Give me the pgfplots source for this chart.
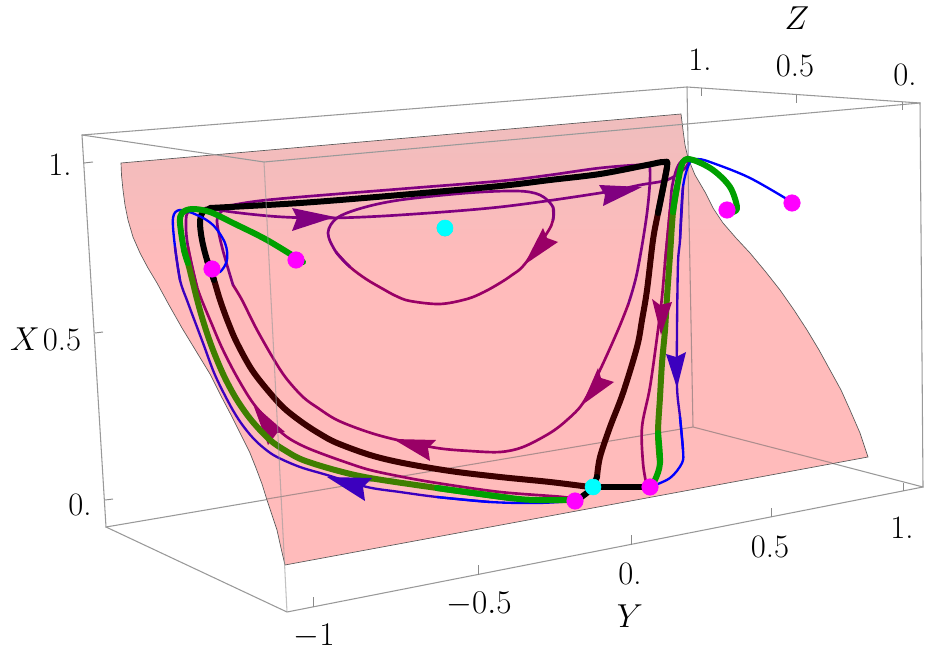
\documentclass[border=0pt]{standalone}
\usepackage{pgfplots}
\pgfplotsset{compat=1.18}
\definecolor{surfp}{HTML}{FFBBBB}
\definecolor{surfg}{HTML}{EFBDBD}
\definecolor{boxc}{HTML}{999999}
\definecolor{boxt}{HTML}{AD8D8D}
\definecolor{pA}{HTML}{800080}
\definecolor{pB}{HTML}{990066}
\definecolor{bA}{HTML}{0000FF}
\definecolor{bB}{HTML}{3C00BE}
\definecolor{gA}{HTML}{00A000}
\definecolor{gB}{HTML}{3F7F00}
\definecolor{kB}{HTML}{3C0000}
\definecolor{mg}{HTML}{FF00FF}
\definecolor{cy}{HTML}{00FFFF}
\definecolor{cyd}{HTML}{40C0C0}
\pgfdeclareverticalshading{surfshade}{100bp}{color(0bp)=(surfp); color(58bp)=(surfp); color(75bp)=(surfg); color(100bp)=(surfg)}
\newcommand{\lab}[1]{\fontsize{24.5}{28}\selectfont #1}
\begin{document}
\begin{tikzpicture}
\begin{axis}[
  axis lines=none, scale only axis, width=700.5pt, height=491.25pt,
  xmin=0, xmax=934, ymin=0, ymax=655, y dir=reverse, clip=true,
  boxl/.style={color=boxc, line width=0.8pt, line cap=round, no markers},
  tick/.style={color=boxc!90!black, line width=0.7pt, no markers},
  pl/.style={line width=2pt, no markers, smooth, tension=0.55, line cap=round, line join=round},
  bl/.style={line width=1.75pt, no markers, smooth, tension=0.55, line cap=round, line join=round},
  th/.style={line width=4.5pt, no markers, smooth, tension=0.55, line cap=round, line join=round},
  arr/.style={no markers, line width=0pt, draw=none},
]
\path (rel axis cs:0,0) rectangle (rel axis cs:1,1);
% back box lines
\addplot[boxl] coordinates {(82,135) (687,87) (920,103) (923,487) (693,427) (106,527) (82,135)};
\addplot[boxl] coordinates {(687,87) (693,427)};
% surface
\addplot[shade, shading=surfshade, draw=black!65, line width=0.5pt, no markers] coordinates {
 (121,163) (681,114) (682,122) (683,130) (685,145) (688,158) (695,175) (705,192) (713,208) (723,223) (736,238) (750,253) (765,271) (780,290) (794,310) (807,330) (819,350) (830,370) (841,390) (850,410) (860,433) (868,457)
 (285,565) (281,548) (277,530) (272,515) (267,500) (262,484) (256,468) (250,453) (240,433) (230,413) (220,394) (210,374) (196,351) (182,328) (169,305) (157,283) (148,268) (140,253) (133,237) (128,220) (125,205) (123,190) (121.5,175)} -- cycle;
\addplot[color=boxt, line width=0.8pt, no markers] coordinates {(267,499) (693,427) (832,463)};
\addplot[color=boxt, line width=0.8pt, no markers] coordinates {(688,165) (693,427)};
% front box lines
\addplot[boxl] coordinates {(82,135) (264,162) (920,103)};
\addplot[boxl] coordinates {(106,527) (287,612) (923,487)};
% ticks
\addplot[tick] coordinates {(84,163) (93,162)};
\addplot[tick] coordinates {(95,333) (103,332)};
\addplot[tick] coordinates {(105,500) (113,499)};
\addplot[tick] coordinates {(701,88) (701,96)};
\addplot[tick] coordinates {(796,95) (796,103)};
\addplot[tick] coordinates {(902,102) (902,110)};
\addplot[tick] coordinates {(313,607) (313,597)};
\addplot[tick] coordinates {(478,575) (478,565)};
\addplot[tick] coordinates {(631,545) (631,535)};
\addplot[tick] coordinates {(771,517) (771,508)};
\addplot[tick] coordinates {(903,491) (903,483)};
% points beneath the curves
\addplot[only marks, mark=*, mark size=6pt, color=cy, mark options={draw=cy, fill=cy}] coordinates {(445,228) (593,487)};
\addplot[fill=cyd, draw=none, no markers] coordinates {(452.6,231.4) (449,235.3) (445,236.4) (441,235.3) (437.8,232) (436.6,228) (437.4,224.6)} -- cycle;
\addplot[only marks, mark=*, mark size=6.2pt, color=mg, mark options={draw=mg, fill=mg}] coordinates {(212,269) (296,260) (727,210) (792,203) (575,501) (650,487)};
% purple 1
\addplot[pl, color=pA] coordinates {(197,287) (188,247) (186,223) (190,211) (217,208) (267,200) (400,189) (500,181) (550,175) (600,168) (643,165) (650,170) (647,213) (637,273) (628,305)};
\addplot[pl, color=pB] coordinates {(628,305) (618,330) (600,370) (583,403) (567,420) (550,433) (523,447) (500,452) (470,451) (437,448) (393,439) (365,431) (337,420) (318,408) (303,397) (286,378) (273,358) (256,328) (242,300) (233,285)};
\addplot[pl, color=pA] coordinates {(233,285) (222,247) (217,220) (223,210)};
\addplot[pl, color=pB] coordinates {(188,247) (197,287) (213,327) (223,350) (237,377) (253,403) (270,422) (287,437) (303,446) (320,453) (345,462) (370,470) (403,477) (437,483) (500,492) (563,497) (575,500)};
% purple 2
\addplot[pl, color=pA] coordinates {(205,208) (240,213) (283,217) (333,218) (400,215) (500,207) (600,193) (640,185) (667,180) (683,170) (688,163) (683,160) (677,168) (672,187) (670,210) (665,263)};
\addplot[pl, color=pB] coordinates {(670,210) (665,263) (662,297) (658,330) (650,387) (642,427) (643,463) (646,482)};
% inner loop
\addplot[pl, color=pB] coordinates {(553,207) (553,220) (547,233) (524,265) (512,275) (500,283) (484,292) (467,299) (440,304) (410,301) (396,296) (383,289) (366,279) (350,267) (336,252)};
\addplot[pl, color=pA] coordinates {(350,267) (336,252) (328,233) (337,218) (362,208) (400,200) (467,193) (517,191) (540,195) (553,207) (553,220)};
% arrows under thick lines
\addplot[arr, fill=pA] coordinates {(335,217) (292,208) (297,218) (292,231)} -- cycle;
\addplot[arr, fill=pA] coordinates {(642,187) (599,185) (605,195) (603,206)} -- cycle;
\addplot[arr, fill=pB] coordinates {(524,265) (543,228) (547,238) (558,242)} -- cycle;
\addplot[arr, fill=pB] coordinates {(582,405) (598,368) (601,378) (614,382)} -- cycle;
\addplot[arr, fill=pB] coordinates {(393,439) (436,440) (428,448) (430,461)} -- cycle;
\addplot[arr, fill=pB] coordinates {(253,404) (285,432) (277,433) (268,445)} -- cycle;
% black / dark
\addplot[th, color=kB] coordinates {(207,260) (214,280) (220,300) (228,322) (237,343) (252,370) (270,393) (285,409) (303,423) (320,434) (337,443) (370,455) (403,463) (450,471) (500,477) (550,482) (590,487)};
\addplot[th, color=kB] coordinates {(667,167) (658,213) (653,240) (647,290) (642,320) (637,347) (623,393) (610,427) (600,457) (597,477)};
\addplot[th, color=black] coordinates {(210,208) (300,203) (400,195) (500,186) (550,180) (600,174) (647,165) (664,162) (667,167) (658,213)};
\addplot[th, color=black] coordinates {(212,208) (203,212) (200,222) (202,240) (207,260) (214,280)};
% blue
\addplot[bl, color=bA] coordinates {(213,270) (220,272) (227,260) (225,243) (213,225) (197,215) (180,210) (173,218) (175,247) (180,280)};
\addplot[bl, color=bB] coordinates {(175,247) (180,280) (188,303) (203,343) (215,375) (230,405) (241,423) (253,438) (265,449) (277,457) (300,467) (327,475) (367,487) (400,492) (437,497) (490,502)};
\addplot[bl, color=bA] coordinates {(437,497) (490,502) (537,503) (575,501)};
\addplot[bl, color=bA] coordinates {(795,204) (750,178) (710,162) (697,159) (690,162) (683,187) (680,240)};
\addplot[bl, color=bB] coordinates {(683,187) (680,240) (678,263) (677,330) (677,387) (680,417) (683,450)};
\addplot[bl, color=bA] coordinates {(680,417) (683,450) (682,463) (670,478) (650,487)};
% green
\addplot[th, color=gB] coordinates {(184,250) (188,263) (198,303) (205,327) (213,350) (224,376) (237,400) (252,421) (270,440) (286,451) (303,460) (335,470) (370,478) (437,488) (510,498)};
\addplot[th, color=gA] coordinates {(303,262) (267,240) (233,223) (210,212) (192,209) (182,213) (180,223) (184,250) (188,263)};
\addplot[th, color=gA] coordinates {(437,488) (510,498) (537,500) (577,500)};
\addplot[th, color=gB] coordinates {(677,187) (673,212) (670,255) (667,297) (665,330) (662,363) (660,397) (658,433) (660,463)};
\addplot[th, color=gA] coordinates {(727,211) (733,212) (737,207) (730,187) (713,170) (693,160) (683,162) (677,187) (673,212)};
\addplot[th, color=gA] coordinates {(658,433) (660,463) (655,480) (650,487)};
% arrows over lines
\addplot[arr, fill=pB] coordinates {(661,335) (652,299) (660,305) (672,302)} -- cycle;
\addplot[arr, fill=bB] coordinates {(677,388) (666,354) (676,357) (686,352)} -- cycle;
\addplot[arr, fill=bB] coordinates {(327,477) (372,478) (363,487) (365,501)} -- cycle;
% black ends
\addplot[th, color=black, line cap=butt] coordinates {(652,487) (620,487) (590,487)};
\addplot[th, color=black] coordinates {(577,500) (590,490) (597,477)};
% front vertical
\addplot[color=boxc, opacity=0.6, line width=0.8pt, no markers] coordinates {(264,162) (287,612)};
% labels
\node at (axis cs:60,165) {\lab{1.}};
\node at (axis cs:62,340) {\lab{0.5}};
\node at (axis cs:25,339) {\lab{$X$}};
\node at (axis cs:80,505) {\lab{0.}};
\node at (axis cs:797,18) {\lab{$Z$}};
\node at (axis cs:700,60) {\lab{1.}};
\node at (axis cs:795,66) {\lab{0.5}};
\node at (axis cs:905,75) {\lab{0.}};
\node at (axis cs:314,636) {\lab{$-1$}};
\node at (axis cs:479,604) {\lab{$-0.5$}};
\node at (axis cs:630,574) {\lab{0.}};
\node at (axis cs:630,616) {\lab{$Y$}};
\node at (axis cs:770,547) {\lab{0.5}};
\node at (axis cs:902,528) {\lab{1.}};
\end{axis}
\end{tikzpicture}
\end{document}
